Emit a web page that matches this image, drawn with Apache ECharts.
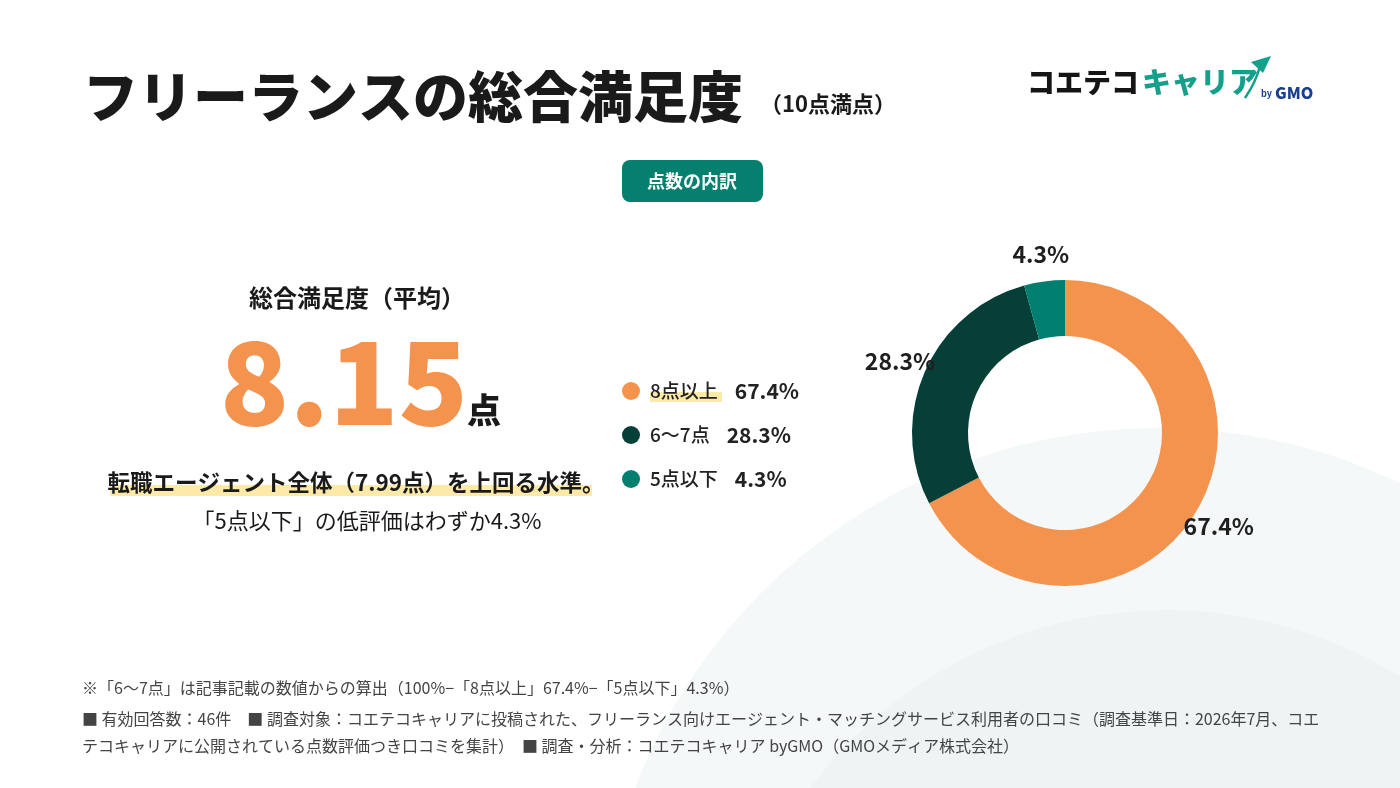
<!DOCTYPE html>
<html>
<head>
<meta charset="utf-8">
<script src="https://cdn.jsdelivr.net/npm/echarts@6/dist/echarts.min.js"></script>
<style>
  html, body { margin: 0; padding: 0; background: #fff; }
  #main { width: 1400px; height: 788px; }
</style>
</head>
<body>
<div id="main"></div>
<script>
const categories = ['8点以上', '6〜7点', '5点以下']
const shares = [67.4, 28.3, 4.3]
const colors = ['#f4934d', '#053f38', '#007f70']

const font = '"Noto Sans CJK JP", "Noto Sans", sans-serif'
const chartDom = document.getElementById('main')
const myChart = echarts.init(chartDom)

const pieData = categories.map((name, i) => ({
  name,
  value: shares[i],
  itemStyle: { color: colors[i] },
}))

const txt = (text, x, y, size, weight, fill, align) => ({
  type: 'text',
  z: 3,
  style: {
    text, x, y, fill,
    font: `${weight} ${size}px ${font}`,
    textAlign: align || 'left',
    verticalAlign: 'middle',
  },
})

const option = {
  backgroundColor: '#ffffff',
  legend: {
    orient: 'vertical',
    left: 617,
    top: 373,
    z: 20,
    icon: 'circle',
    itemWidth: 28,
    itemHeight: 18,
    itemGap: 18,
    selectedMode: false,
    data: categories,
    formatter: (name) => {
      const i = categories.indexOf(name)
      return `{n|${name}}{v|${shares[i].toFixed(1)}%}`
    },
    textStyle: {
      fontFamily: font,
      lineHeight: 26,
      rich: {
        n: { fontSize: 19, fontWeight: 500, color: '#222', fontFamily: font },
        v: { fontSize: 21, fontWeight: 'bold', color: '#222', fontFamily: font, padding: [0, 0, 0, 17] },
      },
    },
  },
  graphic: [
    // background arcs
    { type: 'circle', z: 0, silent: true, shape: { cx: 1158, cy: 988, r: 560 }, style: { fill: '#f4f8f8' } },
    { type: 'circle', z: 0, silent: true, shape: { cx: 1166, cy: 1055, r: 445 }, style: { fill: '#edf4f3' } },
    // title
    txt('フリーランスの総合満足度', 83, 96, 55, 900, '#1a1a1a'),
    txt('（10点満点）', 760, 104, 22, 'bold', '#1a1a1a'),
    // logo
    txt('コエテコ', 1027, 82, 28, 900, '#151515'),
    txt('キャリア', 1142, 82, 29, 900, '#14a08a'),
    txt('by', 1261, 94, 9, 'bold', '#1b3f8f'),
    txt('GMO', 1275, 93, 16, 900, '#1b3f8f'),
    { type: 'polygon', z: 3, shape: { points: [[1251, 62], [1271, 56], [1263, 73]] }, style: { fill: '#14a08a' } },
    { type: 'bezierCurve', z: 3, shape: { x1: 1245, y1: 98, x2: 1260, y2: 66, cpx1: 1256, cpy1: 82 }, style: { stroke: '#14a08a', lineWidth: 2.5, fill: null } },
    // badge
    { type: 'rect', z: 1, shape: { x: 622, y: 160, width: 141, height: 42, r: 8 }, style: { fill: '#077f6e' } },
    txt('点数の内訳', 692, 181, 18, 'bold', '#ffffff', 'center'),
    // average block
    txt('総合満足度（平均）', 357, 298, 24, 'bold', '#1a1a1a', 'center'),
    txt('8.15', 344, 382, 114, 900, '#f4934d', 'center'),
    txt('点', 484, 410, 34, 900, '#1a1a1a', 'center'),
    { type: 'rect', z: 1, shape: { x: 110, y: 485, width: 482, height: 11 }, style: { fill: '#fde9a8' } },
    txt('転職エージェント全体（7.99点）を上回る水準。', 356, 482, 22.5, 'bold', '#1a1a1a', 'center'),
    txt('「5点以下」の低評価はわずか4.3%', 367, 521, 22, 'normal', '#1a1a1a', 'center'),
    // legend highlight
    { type: 'rect', z: 0, shape: { x: 650, y: 392, width: 72, height: 10 }, style: { fill: '#fde9a8' } },
    // footnotes
    txt('※「6〜7点」は記事記載の数値からの算出（100%−「8点以上」67.4%−「5点以下」4.3%）', 82, 688, 16, 'normal', '#444'),
    txt('■ 有効回答数：46件　■ 調査対象：コエテコキャリアに投稿された、フリーランス向けエージェント・マッチングサービス利用者の口コミ（調査基準日：2026年7月、コエ', 82, 719, 16, 'normal', '#444'),
    txt('テコキャリアに公開されている点数評価つき口コミを集計）　■ 調査・分析：コエテコキャリア byGMO（GMOメディア株式会社）', 82, 746, 16, 'normal', '#444'),
  ],
  series: [
    {
      name: '点数の内訳',
      type: 'pie',
      center: [1065, 433],
      radius: [97, 153],
      startAngle: 90,
      silent: true,
      label: { show: false },
      labelLine: { show: false },
      data: pieData,
    },
    {
      name: 'labels',
      type: 'pie',
      center: [1065, 433],
      radius: [168, 186],
      startAngle: 90,
      silent: true,
      z: 5,
      itemStyle: { color: 'rgba(0,0,0,0)' },
      label: {
        show: true,
        position: 'inside',
        formatter: (p) => `${p.value.toFixed(1)}%`,
        fontFamily: font,
        fontSize: 23,
        fontWeight: 'bold',
        color: '#1f1f1f',
      },
      labelLine: { show: false },
      data: categories.map((name, i) => ({ name, value: shares[i] })),
    },
  ],
}

option && myChart.setOption(option)
</script>
</body>
</html>
